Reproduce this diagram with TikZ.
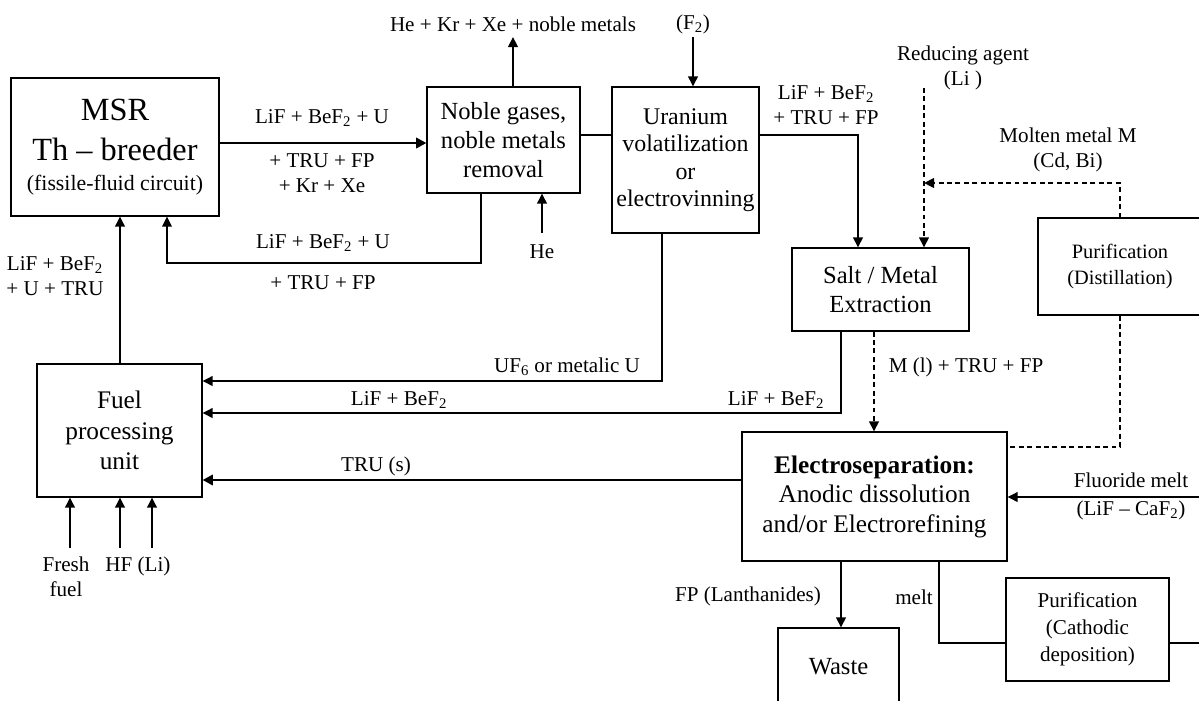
\documentclass[tikz,border=0pt]{standalone}
\usepackage{fontspec}
\setmainfont{Liberation Serif}
\usetikzlibrary{positioning, arrows.meta, calc}

\begin{document}
\begin{tikzpicture}[
    x=0.025cm, y=-0.025cm,
    font=\fontsize{15}{18}\selectfont,
    unitbox/.style={
        draw,
        line width=0.8pt,
        align=center,
        inner sep=2pt,
        font=\fontsize{17.5}{20.5}\selectfont
    },
    lbl/.style={align=center, inner sep=1pt},
    arr/.style={-{Triangle[length=2.5mm, width=2.4mm]}, line width=1.4pt},
    bigarr/.style={-{Triangle[length=2.6mm, width=2.6mm]}, line width=2.1pt},
    thinarr/.style={-{Triangle[length=2.5mm, width=2.4mm]}, line width=1pt},
    dasharr/.style={-{Triangle[length=2.5mm, width=2.4mm]}, line width=1.4pt, dash pattern=on 3.5pt off 2.5pt},
    dashline/.style={line width=1.4pt, dash pattern=on 3.5pt off 2.5pt},
    pipe/.style={line width=0.9pt}
]

\useasboundingbox (0,0) rectangle (1199,700);
\clip (0,0) rectangle (1199,700);

% process units
\node[unitbox, minimum width=5.2cm, minimum height=3.45cm, font=\fontsize{23}{28.5}\selectfont]
    (msr) at (115,147) {MSR\\Th – breeder\\[-7pt]{\fontsize{15.5}{18}\selectfont (fissile-fluid circuit)}};
\node[unitbox, minimum width=3.825cm, minimum height=2.65cm] (noble) at (503.5,140)
    {Noble gases,\\noble metals\\removal};
\node[unitbox, minimum width=3.675cm, minimum height=3.65cm, font=\fontsize{17}{19.5}\selectfont]
    (uran) at (685.5,160) {Uranium\\volatilization\\or\\electrovinning};
\node[unitbox, minimum width=4.425cm, minimum height=2.075cm] (salt) at (880.5,289.5)
    {Salt / Metal\\Extraction};
\node[unitbox, minimum width=4.1cm, minimum height=2.425cm, font=\fontsize{14.5}{19}\selectfont]
    (puridist) at (1120,266.5) {Purification\\(Distillation)};
\node[unitbox, minimum width=4.125cm, minimum height=3.325cm, font=\fontsize{18}{21.5}\selectfont]
    (fuel) at (119.5,430.5) {Fuel\\processing\\unit};
\node[unitbox, minimum width=6.625cm, minimum height=3.225cm, font=\fontsize{18}{21}\selectfont]
    (elec) at (874.5,496.5) {\textbf{Electroseparation:}\\Anodic dissolution\\and/or Electrorefining};
\node[unitbox, minimum width=3.025cm, minimum height=1.95cm] (waste) at (838.5,667) {Waste};
\node[unitbox, minimum width=4.075cm, minimum height=2.575cm, font=\fontsize{15}{19}\selectfont]
    (puricath) at (1087.5,629.5) {Purification\\(Cathodic\\deposition)};

% free ends
\coordinate (gasout) at (513,37);
\coordinate (hein) at (542,233);
\coordinate (fin) at (693,37);
\coordinate (redin) at (924,88);
\coordinate (mjoin) at (924,183);
\coordinate (fluin) at (1199,497);
\coordinate (meltout) at (1199,643);
\coordinate (freshin) at (70,548);
\coordinate (hfin) at (120,548);
\coordinate (liin) at (152,548);

% top loop
\draw[bigarr] (msr.east |- 0,143) -- (noble.west |- 0,143);
\draw[arr] (noble.north -| gasout) -- (gasout);
\draw[arr] (hein) -- (hein |- noble.south);
\draw[pipe] (noble.east |- 0,135) -- (uran.west |- 0,135);
\draw[arr] (fin) -- (fin |- uran.north);
\draw[thinarr] (noble.south -| 481,0) |- (167,263) -- (msr.south -| 167,0);
\draw[arr] (uran.east |- 0,135) -| (salt.north -| 858,0);
\draw[dasharr] (redin) -- (salt.north -| redin);
\draw[dasharr] (puridist.north) |- (mjoin);

% returns to fuel processing
\draw[arr] (uran.south -| 662,0) |- (fuel.east |- 0,381);
\draw[arr] (salt.south -| 841,0) |- (fuel.east |- 0,413);
\draw[bigarr] (elec.west |- 0,480) -- (fuel.east |- 0,480);
\draw[arr] (fuel.north -| 120,0) -- (msr.south -| 120,0);
\draw[arr] (freshin) -- (fuel.south -| freshin);
\draw[arr] (hfin) -- (fuel.south -| hfin);
\draw[arr] (liin) -- (fuel.south -| liin);

% electroseparation
\draw[dasharr] (salt.south -| 874,0) -- (elec.north -| 874,0);
\draw[dashline] (puridist.south) |- (elec.east |- 0,447);
\draw[arr] (fluin) -- (fluin -| elec.east);
\draw[arr] (elec.south -| 841,0) -- (waste.north -| 841,0);
\draw[pipe] (elec.south -| 939,0) |- (puricath.west |- 0,643);
\draw[pipe] (puricath.east |- 0,643) -- (meltout);

% stream labels
\node[lbl] (l1) at (322,118) {LiF + BeF\textsubscript{2} + U};
\node[lbl] (l2) at (322,173) {+ TRU + FP\\+ Kr + Xe};
\node[lbl] (l3) at (513,24) {He + Kr + Xe + noble metals};
\node[lbl] (l4) at (693,24) {(F\textsubscript{2})};
\node[lbl] (l5) at (542,252) {He};
\node[lbl] (l6) at (323,243) {LiF + BeF\textsubscript{2} + U};
\node[lbl] (l7) at (323,283) {+ TRU + FP};
\node[lbl] (l8) at (826,105) {LiF + BeF\textsubscript{2}\\+ TRU + FP};
\node[lbl] (l9) at (963,68) {Reducing agent\\(Li )};
\node[lbl] (l10) at (1068,150) {Molten metal M\\(Cd, Bi)};
\node[lbl] (l11) at (55,276) {LiF + BeF\textsubscript{2}\\+ U + TRU};
\node[lbl] (l12) at (567,367) {UF\textsubscript{6} or metalic U};
\node[lbl] (l13) at (399,400) {LiF + BeF\textsubscript{2}};
\node[lbl] (l14) at (776,400) {LiF + BeF\textsubscript{2}};
\node[lbl] (l15) at (376,466) {TRU (s)};
\node[lbl] (l16) at (966,367) {M (l) + TRU + FP};
\node[lbl] (l17) at (1131,496) {Fluoride melt\\[2pt](LiF – CaF\textsubscript{2})};
\node[lbl] (l18) at (748,596) {FP (Lanthanides)};
\node[lbl] (l19) at (914,597) {melt};
\node[lbl] (l20) at (66,577) {Fresh\\fuel};
\node[lbl] (l21) at (138,566) {HF (Li)};

\end{tikzpicture}
\end{document}
